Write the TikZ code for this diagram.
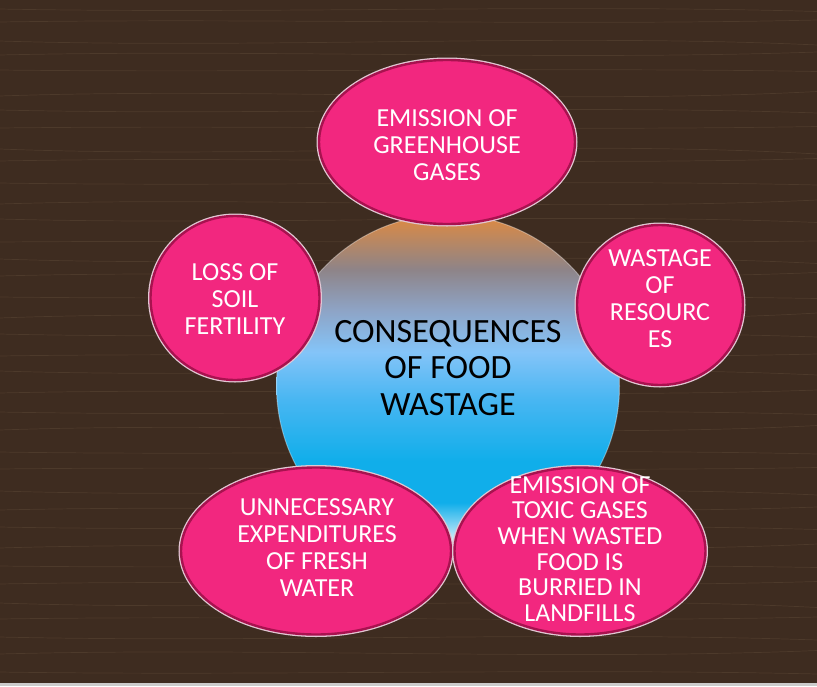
\documentclass[tikz,border=0pt]{standalone}
\usepackage{fontspec}
\setmainfont{Carlito}
\usepackage{tikz}
\usetikzlibrary{shapes.geometric}

\definecolor{wood}{HTML}{3E2C20}
\definecolor{grain}{HTML}{A08665}
\definecolor{blobpink}{HTML}{F2277F}
\definecolor{rimdark}{HTML}{A8124F}
\definecolor{rimlight}{HTML}{E2C6D3}
\definecolor{hubtop}{HTML}{E08A40}
\definecolor{hubgray}{HTML}{8E8488}
\definecolor{hubmist}{HTML}{8EA4C6}
\definecolor{hublight}{HTML}{84C4F8}
\definecolor{hubblue}{HTML}{48B6F2}
\definecolor{hubcyan}{HTML}{10AEEA}
\definecolor{hubpale}{HTML}{D4EEF9}

% bottom of the ball at 25bp, top at 75bp
\pgfdeclareverticalshading{hubshade}{100bp}{color(0bp)=(white); color(25bp)=(white);
  color(27.5bp)=(hubpale); color(33bp)=(hubcyan); color(39bp)=(hubcyan);
  color(48bp)=(hubblue); color(55bp)=(hublight); color(61bp)=(hubmist);
  color(67bp)=(hubgray); color(75bp)=(hubtop); color(100bp)=(hubtop)}

\begin{document}
\begin{tikzpicture}[x=1pt, y=-1pt,
    blob/.style={ellipse, fill=blobpink, draw=rimdark, line width=2.4pt,
      preaction={draw=rimlight, line width=5pt}, inner sep=0pt},
    blobtext/.style={text=white, align=center, inner sep=0pt,
      font=\fontsize{26}{27}\selectfont}]

  \useasboundingbox (0,0) rectangle (817,686);

  % Wood background
  \fill[wood] (0,0) rectangle (817,686);
  \foreach \y/\b in {9/5,22/-4,41/8,55/-6,70/3,96/-9,110/6,128/-3,149/10,161/-5,
                     183/4,204/-8,219/7,242/-2,259/9,276/-7,297/3,318/-10,334/6,
                     356/-4,371/8,393/-6,412/5,430/-9,452/4,469/-3,491/8,510/-6,
                     527/5,548/-8,566/3,584/-5,603/9,619/-4,637/6,654/-7,672/4}
    \draw[grain, opacity=0.16, line width=0.7pt]
      (0,\y) .. controls (260,\y+\b) and (560,\y-\b) .. (817,\y+0.5*\b);
  \fill[gray!40] (0,683) rectangle (817,686);

  % Central ball
  \node[circle, minimum size=343pt, inner sep=0pt, shading=hubshade,
        draw=white, draw opacity=0.35, line width=1pt] (hub) at (448,386) {};
  \node[align=center, inner sep=0pt, font=\fontsize{34}{36.7}\selectfont]
    (hubtext) at (448,368) {CONSEQUENCES\\OF FOOD\\WASTAGE};

  % Consequences round the ball
  \node[blob, minimum width=256pt, minimum height=164pt] (ghg) at (447,142) {};
  \node[blobtext] (ghgtext) at (447,145) {EMISSION OF\\GREENHOUSE\\GASES};

  \node[blob, minimum width=169pt, minimum height=164pt] (soil) at (235,298) {};
  \node[blobtext] (soiltext) at (235,299) {LOSS OF\\SOIL\\FERTILITY};

  \node[blob, minimum width=166pt, minimum height=160pt] (res) at (660,305) {};
  \node[blobtext] (restext) at (660,299) {WASTAGE\\OF\\RESOURC\\ES};

  \node[blob, minimum width=270pt, minimum height=167pt] (water) at (316,551) {};
  \node[blobtext] (watertext) at (317,548) {UNNECESSARY\\EXPENDITURES\\OF FRESH\\WATER};

  \node[blob, minimum width=251pt, minimum height=167pt] (toxic) at (580,551) {};
  \node[blobtext, font=\fontsize{26}{25.6}\selectfont] (toxictext) at (580,549)
    {EMISSION OF\\TOXIC GASES\\WHEN WASTED\\FOOD IS\\BURRIED IN\\LANDFILLS};

\end{tikzpicture}
\end{document}
